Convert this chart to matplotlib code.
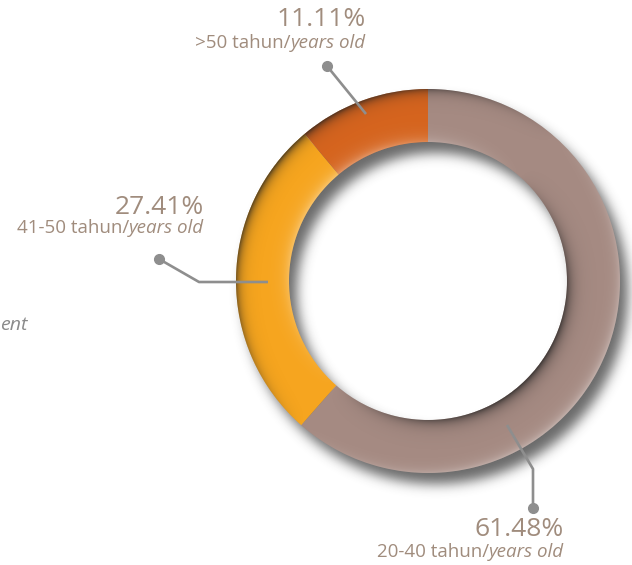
import numpy as np
import matplotlib.pyplot as plt

# data
shares = [61.48, 27.41, 11.11]
pct_labels = ["61.48%", "27.41%", "11.11%"]
groups = ["20-40 tahun/", "41-50 tahun/", ">50 tahun/"]
group_en = ["years old", "years old", "years old"]
colors = ["#A58A82", "#F6A51F", "#D5641E"]

W, H = 632, 565
cx, cy = 428, 281          # ring centre in pixels (y down)
R, r0 = 192, 139           # outer / inner radius
txt_col = "#A08C7D"
line_col = "#8E8E8E"

plt.rcParams['font.family'] = ['Open Sans', 'DejaVu Sans']

fig = plt.figure(figsize=(W / 100, H / 100), dpi=100)
ax = fig.add_axes([0, 0, 1, 1])


def gblur(a, s):
    k = np.arange(-3 * s, 3 * s + 1)
    k = np.exp(-k ** 2 / (2.0 * s * s))
    k /= k.sum()
    a = np.apply_along_axis(lambda v: np.convolve(v, k, mode='same'), 0, a)
    a = np.apply_along_axis(lambda v: np.convolve(v, k, mode='same'), 1, a)
    return a


# drop shadow under the ring
yy, xx = np.mgrid[0:H, 0:W] + 0.5
def ring_mask(ox, oy):
    rr = np.hypot(xx - cx - ox, yy - cy - oy)
    return np.clip(R - rr + 0.5, 0, 1) * np.clip(rr - r0 + 0.5, 0, 1)

sh = gblur(ring_mask(8, 11), 6)
shadow = np.zeros((H, W, 4))
shadow[..., :3] = 0.22
shadow[..., 3] = sh * 0.75
ax.imshow(shadow, extent=(0, W, 0, H), origin='upper', zorder=1, interpolation='bilinear')

ax.pie(shares, colors=colors, startangle=90, counterclock=False,
       center=(cx, H - cy), radius=R,
       wedgeprops=dict(width=R - r0, linewidth=0), frame=True)

# bevel shading on the ring edges
rr = np.hypot(xx - cx, yy - cy)
nx, ny = (xx - cx) / np.maximum(rr, 1), (yy - cy) / np.maximum(rr, 1)
lit = -(nx * -0.75 + ny * -0.66)       # light from lower right
mask = ring_mask(0, 0)
edge_out = np.exp(-np.clip(R - rr, 0, None) / 5.0)
edge_in = np.exp(-np.clip(rr - r0, 0, None) / 6.0)
dark = (edge_out * np.clip(-lit, 0, 1) + edge_in * np.clip(lit, 0, 1)) * 0.8
light = (edge_out * np.clip(lit, 0, 1) + edge_in * np.clip(-lit, 0, 1)) * 0.35
bev = np.zeros((H, W, 4))
bev[..., :3] = 0.12
bev[..., 3] = np.clip(dark, 0, 1) * mask
ax.imshow(bev, extent=(0, W, 0, H), origin='upper', zorder=3, interpolation='bilinear')
hl = np.ones((H, W, 4))
hl[..., 3] = light * mask
ax.imshow(hl, extent=(0, W, 0, H), origin='upper', zorder=3, interpolation='bilinear')

# leader lines (pixel coords, y down)
leaders = [
    [(507, 425), (533, 469), (533, 508)],
    [(268, 282), (199, 282), (159, 259)],
    [(366, 114), (327, 66)],
]
for pts in leaders:
    px = [p[0] for p in pts]
    py = [H - p[1] for p in pts]
    ax.plot(px, py, color=line_col, lw=1.9, zorder=4, solid_capstyle='butt')
    ax.plot(px[-1], py[-1], 'o', color=line_col, ms=7, zorder=4)

# labels: (right x, pct centre y, label centre y)
label_pos = [(564, 530, 552), (204, 207, 228), (366, 19, 43)]
fig.canvas.draw()
for i, (xr, yp, yl) in enumerate(label_pos):
    ax.text(xr, H - yp, pct_labels[i], ha='right', va='center',
            fontsize=19, color=txt_col, zorder=5)
    t = ax.text(xr, H - yl, group_en[i], ha='right', va='center',
                fontsize=13.5, style='italic', color=txt_col, zorder=5)
    bb = t.get_window_extent(renderer=fig.canvas.get_renderer())
    ax.text(xr - bb.width, H - yl, groups[i], ha='right', va='center',
            fontsize=13.5, color=txt_col, zorder=5)

ax.text(0, H - 325, "ent", ha='left', va='center', fontsize=14,
        style='italic', color="#8A8A8A")

ax.set_xlim(0, W)
ax.set_ylim(0, H)
ax.set_aspect('equal')
ax.axis('off')
fig.savefig("out.png", dpi=100)
